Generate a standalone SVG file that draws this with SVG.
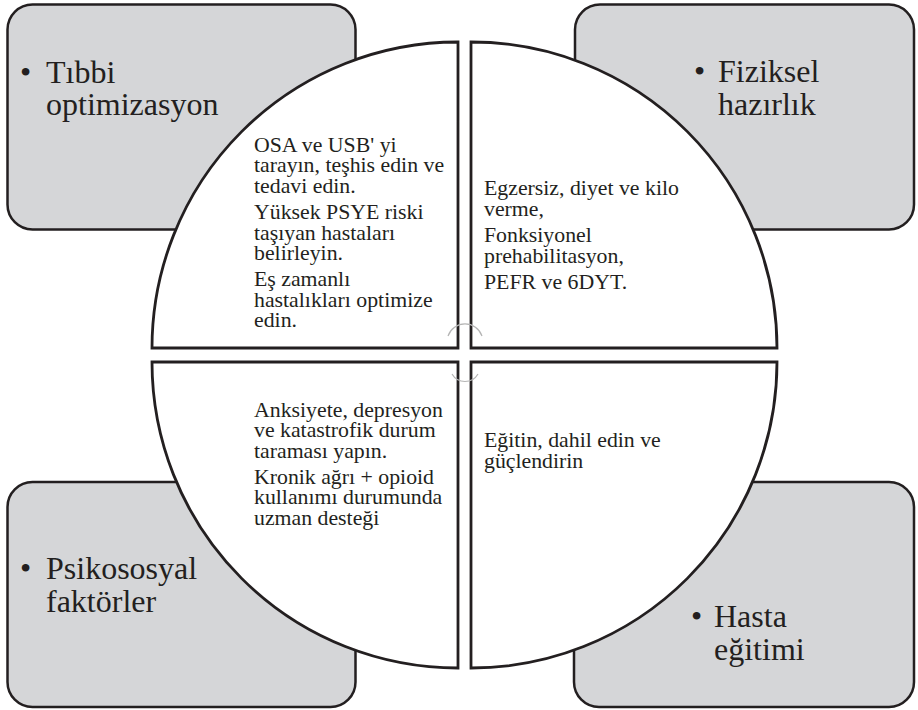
<svg xmlns="http://www.w3.org/2000/svg" width="918" height="710" viewBox="0 0 918 710">
<style>
.box{fill:#d5d6d8;stroke:#231f20;stroke-width:2.5}
.q{fill:#ffffff;stroke:#231f20;stroke-width:2.8}
text{font-family:"Liberation Serif","Times New Roman",serif;fill:#231f20}
.big{font-size:32px}
.sm{font-size:21.8px}
.arc{fill:none;stroke:#b5b5b5;stroke-width:1.2}
</style>
<rect width="918" height="710" fill="#ffffff"/>
<g id="box-tibbi">
<rect class="box" x="7.5" y="4.5" width="348" height="225" rx="25"/>
<text class="big" x="20" y="83">•</text>
<text class="big"><tspan x="46" y="83">Tıbbi</tspan><tspan x="46" y="115">optimizasyon</tspan></text>
</g>
<g id="box-fiziksel">
<rect class="box" x="575" y="4.5" width="339" height="225" rx="25"/>
<text class="big" x="694" y="82">•</text>
<text class="big"><tspan x="718" y="82">Fiziksel</tspan><tspan x="718" y="115">hazırlık</tspan></text>
</g>
<g id="box-psikososyal">
<rect class="box" x="7.5" y="482" width="348" height="225" rx="25"/>
<text class="big" x="20" y="579">•</text>
<text class="big"><tspan x="46" y="579">Psikososyal</tspan><tspan x="46" y="612">faktörler</tspan></text>
</g>
<g id="box-hasta">
<rect class="box" x="574" y="482" width="340" height="225" rx="25"/>
<text class="big" x="691" y="627">•</text>
<text class="big"><tspan x="714" y="627">Hasta</tspan><tspan x="714" y="660">eğitimi</tspan></text>
</g>
<g id="q-tl">
<path class="q" d="M458 348 L152 348 A306 306 0 0 1 458 42 Z"/>
<text class="sm"><tspan x="254" y="151.5">OSA ve USB' yi</tspan><tspan x="254" y="172">tarayın, teşhis edin ve</tspan><tspan x="254" y="192.5">tedavi edin.</tspan><tspan x="254" y="219">Yüksek PSYE riski</tspan><tspan x="254" y="239.5">taşıyan hastaları</tspan><tspan x="254" y="260">belirleyin.</tspan><tspan x="254" y="286">Eş zamanlı</tspan><tspan x="254" y="306.5">hastalıkları optimize</tspan><tspan x="254" y="327">edin.</tspan></text>
</g>
<g id="q-tr">
<path class="q" d="M471 348 L471 42 A306 306 0 0 1 777 348 Z"/>
<text class="sm"><tspan x="484" y="195">Egzersiz, diyet ve kilo</tspan><tspan x="484" y="215.5">verme,</tspan><tspan x="484" y="242">Fonksiyonel</tspan><tspan x="484" y="262.5">prehabilitasyon,</tspan><tspan x="484" y="289">PEFR ve 6DYT.</tspan></text>
</g>
<g id="q-bl">
<path class="q" d="M458 362 L458 668 A306 306 0 0 1 152 362 Z"/>
<text class="sm"><tspan x="254" y="416.5">Anksiyete, depresyon</tspan><tspan x="254" y="437">ve katastrofik durum</tspan><tspan x="254" y="457.5">taraması yapın.</tspan><tspan x="254" y="483.5">Kronik ağrı + opioid</tspan><tspan x="254" y="504">kullanımı durumunda</tspan><tspan x="254" y="524.5">uzman desteği</tspan></text>
</g>
<g id="q-br">
<path class="q" d="M471 362 L777 362 A306 306 0 0 1 471 668 Z"/>
<text class="sm"><tspan x="484" y="447">Eğitin, dahil edin ve</tspan><tspan x="484" y="467.5">güçlendirin</tspan></text>
</g>
<g id="connectors">
<path class="arc" d="M448 336 A18 18 0 0 1 482 336"/>
<path class="arc" d="M452 374 A15 15 0 0 0 478 374"/>
</g>
</svg>
